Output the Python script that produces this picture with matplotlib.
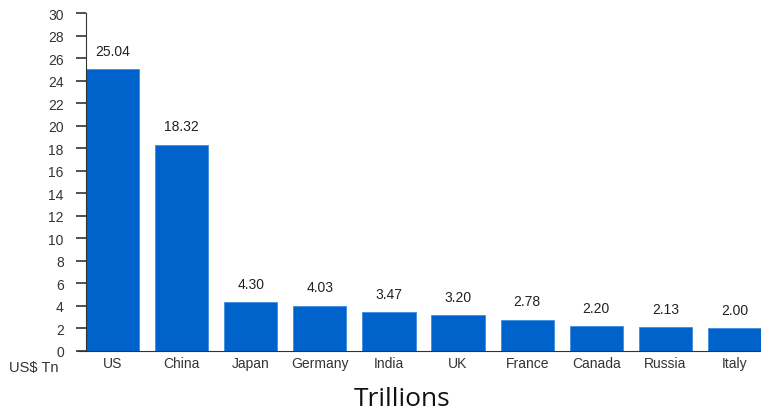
import matplotlib.pyplot as plt

countries = ['US', 'China', 'Japan', 'Germany', 'India', 'UK', 'France', 'Canada', 'Russia', 'Italy']
gdp = [25.04, 18.32, 4.30, 4.03, 3.47, 3.20, 2.78, 2.20, 2.13, 2.00]
labels = ['25.04', '18.32', '4.30', '4.03', '3.47', '3.20', '2.78', '2.20', '2.13', '2.00']
yticks = list(range(0, 31, 2))


def main():
    plt.rcParams['font.family'] = ['Liberation Sans', 'DejaVu Sans']
    fig = plt.figure(figsize=(7.61, 4.14), dpi=100)
    ax = fig.add_axes([0.113, 0.150, 0.887, 0.816])
    w = 0.77
    x = list(range(len(countries)))
    ax.bar(x, gdp, width=w, color='#0063CC', edgecolor='#3d8ee0', linewidth=0.6)
    for xi, v, lab in zip(x, gdp, labels):
        ax.annotate(lab, (xi, v), xytext=(0, 8), textcoords='offset points',
                    ha='center', va='bottom', fontsize=10, color='#222222')
    ax.set_xlim(-w / 2, len(countries) - 1 + w / 2)
    ax.set_ylim(0, 30)
    ax.set_yticks(yticks)
    ax.set_xticks(x)
    ax.set_xticklabels(countries)
    ax.tick_params(axis='x', length=0, pad=4, labelsize=10, labelcolor='#333333')
    ax.tick_params(axis='y', direction='out', length=7, width=1.2, color='#333333',
                   labelsize=10, labelcolor='#333333', pad=9)
    for s in ['top', 'right']:
        ax.spines[s].set_visible(False)
    ax.spines['left'].set_color('#333333')
    ax.spines['bottom'].set_color('#333333')
    ax.spines['bottom'].set_bounds(-w / 2 - 0.12, len(countries) - 1 + w / 2)
    fig.text(0.012, 0.112, 'US$ Tn', fontsize=10.5, color='#333333', va='center', ha='left')
    fig.text(0.528, 0.034, 'Trillions', fontsize=19, color='#111111', ha='center', va='center',
             family='Open Sans')
    fig.savefig('out.png', dpi=100)


if __name__ == '__main__':
    main()
